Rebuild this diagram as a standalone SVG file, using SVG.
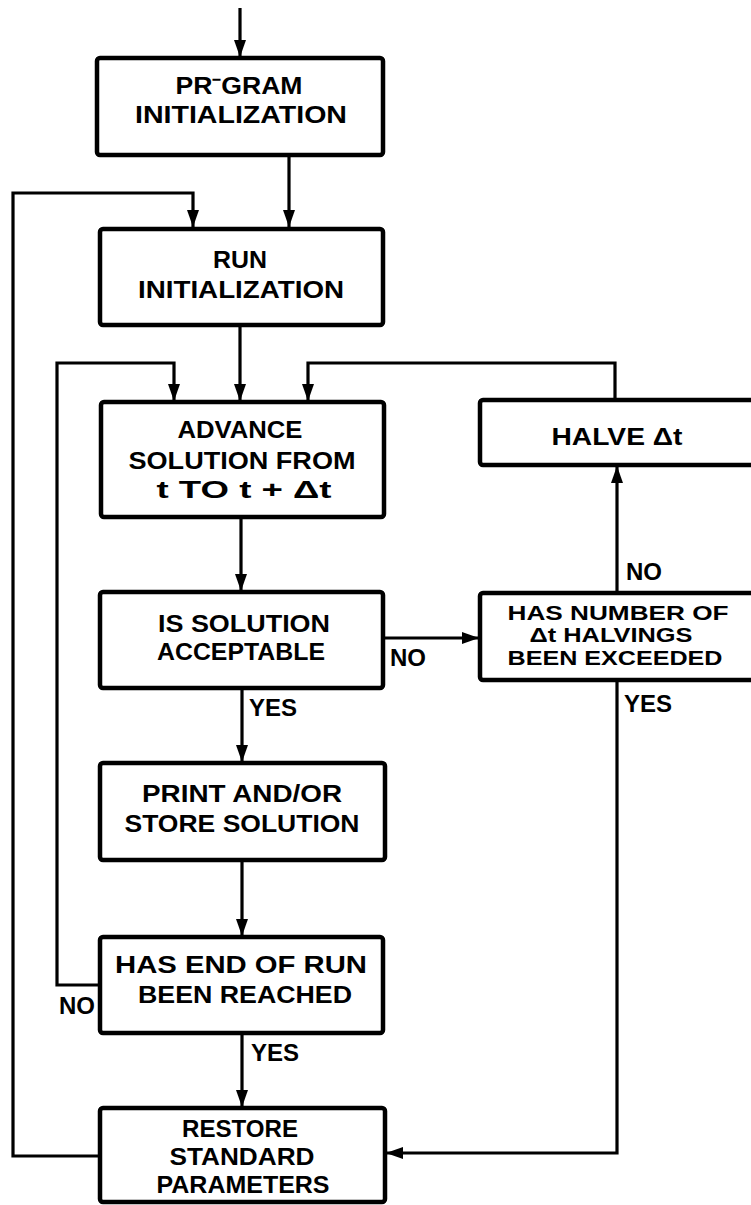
<svg xmlns="http://www.w3.org/2000/svg" width="751" height="1205" viewBox="0 0 751 1205">
<defs>
<style>
.box{fill:#fff;stroke:#000;stroke-width:4.5}
.c{fill:none;stroke:#000;stroke-width:3.2}
text{font-family:"Liberation Sans",Arial,sans-serif;font-weight:bold;font-size:24px;fill:#000;text-anchor:middle}
.lbl{text-anchor:start}
.sm{font-size:20px}
</style>
<marker id="ah" markerUnits="userSpaceOnUse" markerWidth="18" markerHeight="12" refX="17" refY="6" orient="auto">
<path d="M0,0 L17,6 L0,12 Z" fill="#000"/>
</marker>
</defs>
<rect width="751" height="1205" fill="#fff"/>
<g id="connectors">
<path class="c" d="M240,8 V57" marker-end="url(#ah)"/>
<path class="c" d="M289,155 V227" marker-end="url(#ah)"/>
<path class="c" d="M100,1156 H13 V193 H193 V227" marker-end="url(#ah)"/>
<path class="c" d="M240,325 V401" marker-end="url(#ah)"/>
<path class="c" d="M100,985 H57 V363 H174 V401" marker-end="url(#ah)"/>
<path class="c" d="M615,400 V363 H308 V401" marker-end="url(#ah)"/>
<path class="c" d="M241,517 V591" marker-end="url(#ah)"/>
<path class="c" d="M383,638 H479" marker-end="url(#ah)"/>
<path class="c" d="M617,592 V466" marker-end="url(#ah)"/>
<path class="c" d="M242,688 V762" marker-end="url(#ah)"/>
<path class="c" d="M242,860 V936" marker-end="url(#ah)"/>
<path class="c" d="M242,1033 V1107" marker-end="url(#ah)"/>
<path class="c" d="M617,680 V1153 H386" marker-end="url(#ah)"/>
<text class="lbl" x="390" y="666">NO</text>
<text class="lbl" x="626" y="580">NO</text>
<text class="lbl" x="624" y="712">YES</text>
<text class="lbl" x="249" y="716">YES</text>
<text class="lbl" x="59" y="1014">NO</text>
<text class="lbl" x="251" y="1061">YES</text>
</g>
<g id="program-init">
<rect class="box" x="97" y="58" width="286" height="97" rx="3"/>
<text x="239" y="94" textLength="127" lengthAdjust="spacingAndGlyphs">PR⁻GRAM</text>
<text x="241" y="123" textLength="212" lengthAdjust="spacingAndGlyphs">INITIALIZATION</text>
</g>
<g id="run-init">
<rect class="box" x="100" y="229" width="283" height="96" rx="3"/>
<text x="240" y="268" textLength="54" lengthAdjust="spacingAndGlyphs">RUN</text>
<text x="241" y="298" textLength="206" lengthAdjust="spacingAndGlyphs">INITIALIZATION</text>
</g>
<g id="advance">
<rect class="box" x="101" y="402" width="283" height="115" rx="3"/>
<text x="240" y="438" textLength="125" lengthAdjust="spacingAndGlyphs">ADVANCE</text>
<text x="242" y="469" textLength="227" lengthAdjust="spacingAndGlyphs">SOLUTION  FROM</text>
<text x="244" y="498" textLength="175" lengthAdjust="spacingAndGlyphs">t  TO  t  +  Δt</text>
</g>
<g id="halve">
<rect class="box" x="480" y="400" width="280" height="65" rx="3"/>
<text x="617" y="445" textLength="131" lengthAdjust="spacingAndGlyphs">HALVE  Δt</text>
</g>
<g id="is-acceptable">
<rect class="box" x="100" y="592" width="283" height="96" rx="3"/>
<text x="244" y="632" textLength="172" lengthAdjust="spacingAndGlyphs">IS  SOLUTION</text>
<text x="241" y="660" textLength="168" lengthAdjust="spacingAndGlyphs">ACCEPTABLE</text>
</g>
<g id="halvings-exceeded">
<rect class="box" x="480" y="593" width="280" height="87" rx="3"/>
<text class="sm" x="618" y="619.5" textLength="221" lengthAdjust="spacingAndGlyphs">HAS  NUMBER  OF</text>
<text class="sm" x="611" y="642" textLength="163" lengthAdjust="spacingAndGlyphs">Δt  HALVINGS</text>
<text class="sm" x="615" y="664.5" textLength="215" lengthAdjust="spacingAndGlyphs">BEEN  EXCEEDED</text>
</g>
<g id="print-store">
<rect class="box" x="100" y="763" width="285" height="97" rx="3"/>
<text x="242" y="802" textLength="200" lengthAdjust="spacingAndGlyphs">PRINT  AND/OR</text>
<text x="242" y="832" textLength="235" lengthAdjust="spacingAndGlyphs">STORE  SOLUTION</text>
</g>
<g id="end-of-run">
<rect class="box" x="100" y="937" width="283" height="96" rx="3"/>
<text x="241" y="973" textLength="252" lengthAdjust="spacingAndGlyphs">HAS  END  OF  RUN</text>
<text x="245" y="1003" textLength="214" lengthAdjust="spacingAndGlyphs">BEEN  REACHED</text>
</g>
<g id="restore">
<rect class="box" x="100" y="1108" width="285" height="94" rx="3"/>
<text x="240" y="1137" textLength="116" lengthAdjust="spacingAndGlyphs">RESTORE</text>
<text x="242" y="1165" textLength="145" lengthAdjust="spacingAndGlyphs">STANDARD</text>
<text x="243" y="1193" textLength="173" lengthAdjust="spacingAndGlyphs">PARAMETERS</text>
</g>
</svg>
